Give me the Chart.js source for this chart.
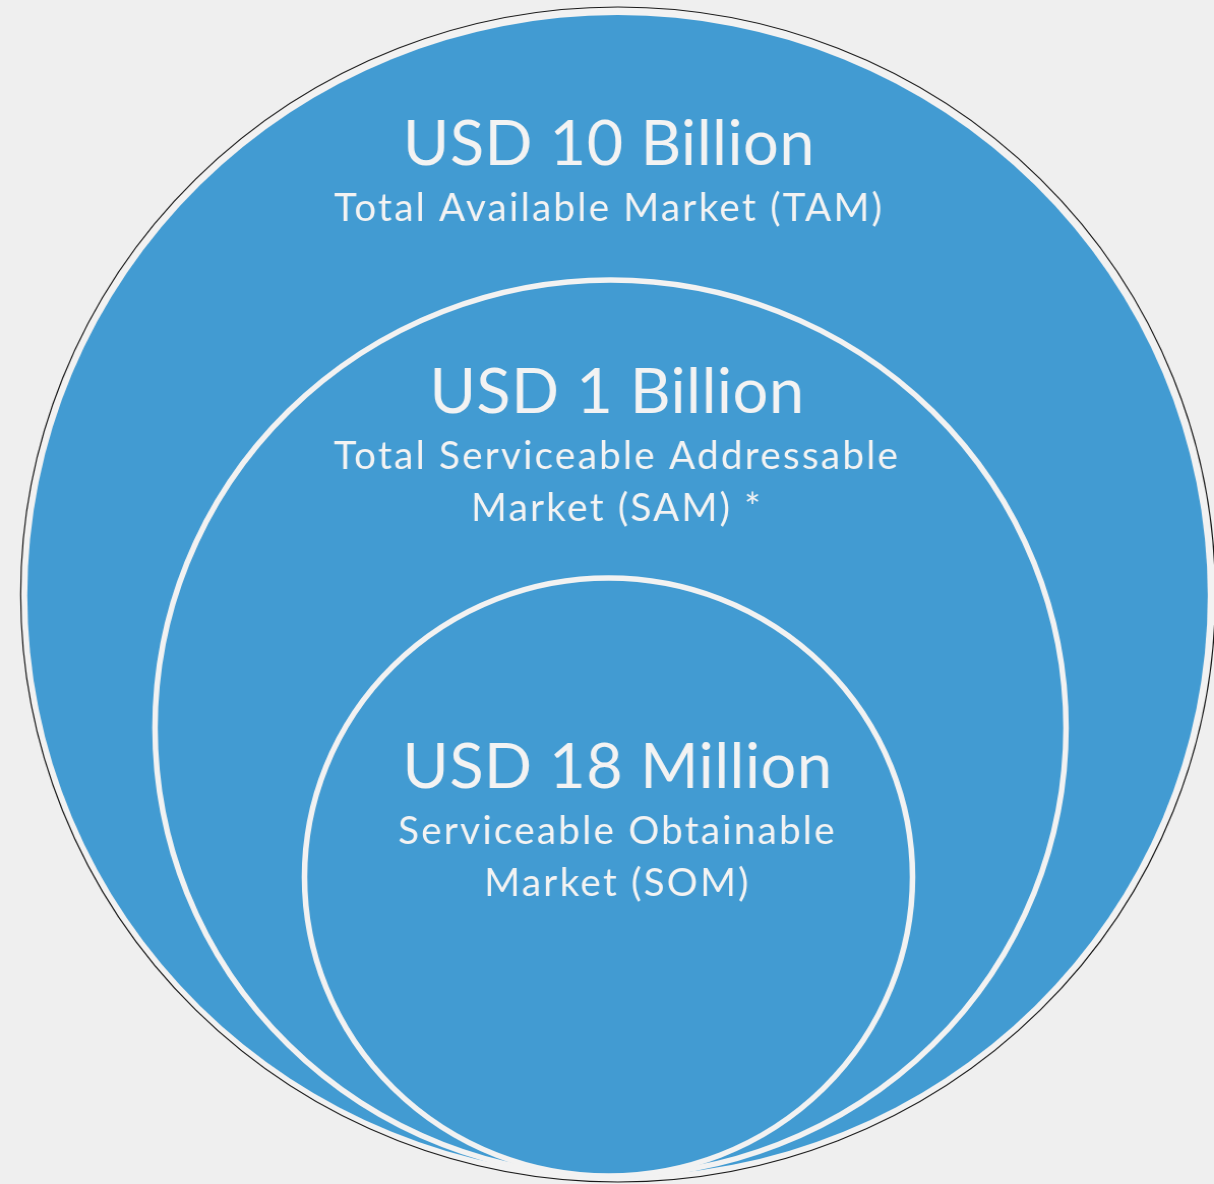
<!DOCTYPE html>
<html>
<head>
<meta charset="utf-8">
<script src="https://cdn.jsdelivr.net/npm/chart.js@4/dist/chart.umd.min.js"></script>
<style>
  html, body { margin: 0; padding: 0; background: #efefef; }
  #marketChart { display: block; }
</style>
</head>
<body>
<canvas id="marketChart" width="1194" height="1184" style="width:1214px;height:1184px"></canvas>
<script>
// market rings, outer to inner
var markets = ["TAM", "SAM", "SOM"];
var valueLabels = ["USD 10 Billion", "USD 1 Billion", "USD 18 Million"];
var descLines = [
    ["Total Available Market (TAM)"],
    ["Total Serviceable Addressable", "Market (SAM) *"],
    ["Serviceable Obtainable", "Market (SOM)"]
];

// circle centres and radii, in picture units (x: 0-1214, y: 0-1184)
var centerX = [617.5, 610.5, 608.5];
var centerY = [595.5, 728, 877];
var radii = [580.5, 448, 299];

// thin outline round the big circle
var outlineX = [618];
var outlineY = [594.5];
var outlineR = [587.5];

// where the labels sit (headline baseline)
var labelX = [609, 617, 617.5];
var labelY = [165, 413, 788];

document.addEventListener("DOMContentLoaded", function() {
    var canvas = document.getElementById("marketChart");
    var ctx = canvas.getContext("2d");

    function toPoints(xs, ys, rs) {
        return xs.map(function(x, i) { return { x: x, y: ys[i], size: rs[i] }; });
    }

    // radius in data units -> pixels through the y scale
    function radiusPx(c) {
        var y = c.chart.scales.y;
        if (!y || !c.raw) return 0;
        return Math.abs(y.getPixelForValue(c.raw.size) - y.getPixelForValue(0));
    }

    var labelPlugin = {
        id: "ringLabels",
        afterDatasetsDraw: function(chart) {
            var c = chart.ctx;
            var xs = chart.scales.x, ys = chart.scales.y;
            c.save();
            c.fillStyle = "#f3f3f3";
            c.textAlign = "center";
            c.textBaseline = "alphabetic";
            markets.forEach(function(m, i) {
                var px = xs.getPixelForValue(labelX[i]);
                var py = ys.getPixelForValue(labelY[i]);
                c.font = "62px Lato";
                c.letterSpacing = "0.5px";
                c.fillText(valueLabels[i], px, py);
                c.font = "38px Lato";
                c.letterSpacing = "2.2px";
                descLines[i].forEach(function(line, j) {
                    c.fillText(line, px, py + 56 + j * 52);
                });
            });
            c.restore();
        }
    };

    var marketChart = new Chart(ctx, {
        type: "scatter",
        data: {
            datasets: [{
                label: "Markets",
                data: toPoints(centerX, centerY, radii),
                backgroundColor: "#429bd2",
                borderColor: ["rgba(0,0,0,0)", "#f2f2f2", "#f2f2f2"],
                borderWidth: [0, 5.5, 5.5],
                pointRadius: radiusPx,
                order: 1,
                clip: false
            }, {
                label: "Outline",
                data: toPoints(outlineX, outlineY, outlineR),
                backgroundColor: "#f2f2f2",
                borderColor: "#1a1a1a",
                borderWidth: 1.2,
                pointRadius: radiusPx,
                order: 2,
                clip: false
            }]
        },
        options: {
            responsive: false,
            animation: false,
            events: [],
            layout: { padding: 0 },
            plugins: {
                legend: { display: false },
                tooltip: { enabled: false }
            },
            scales: {
                x: { type: "linear", min: 0, max: 1214, display: false },
                y: { type: "linear", min: 0, max: 1184, reverse: true, display: false }
            }
        },
        plugins: [labelPlugin]
    });
});
</script>
</body>
</html>
